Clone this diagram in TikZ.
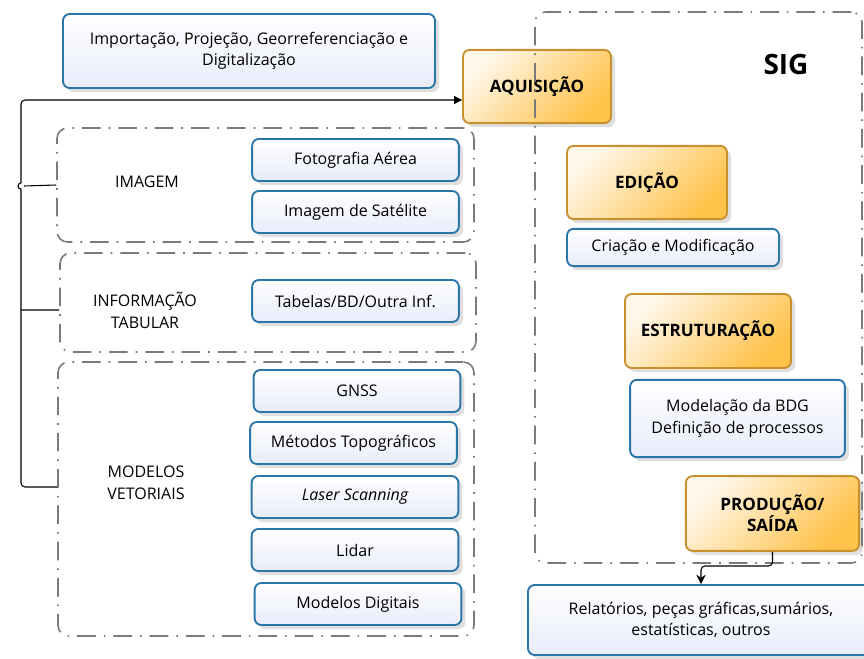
\documentclass[tikz,border=0pt]{standalone}
\usepackage{fontspec}
\setmainfont{Open Sans}
\usetikzlibrary{arrows.meta,positioning,shadows}

\definecolor{boxblue}{HTML}{2B76A8}
\definecolor{fillblue}{HTML}{E8ECFA}
\definecolor{boxorange}{HTML}{C8912F}
\definecolor{lightorange}{HTML}{FFF7EA}
\definecolor{darkorange}{HTML}{FFC24A}
\definecolor{groupgray}{HTML}{7A7A7A}

\begin{document}
\begin{tikzpicture}[x=0.75pt, y=-0.75pt,
  infobox/.style={draw=boxblue, line width=1.4pt, top color=white, bottom color=fillblue,
    rounded corners=5pt, align=center, inner sep=2pt, font=\fontsize{12}{16}\selectfont,
    drop shadow={opacity=0.25, shadow xshift=3pt, shadow yshift=-3pt}},
  srcbox/.style={infobox, minimum width=155pt, minimum height=31.5pt},
  stagebox/.style={draw=boxorange, line width=1.4pt, top color=lightorange, bottom color=darkorange,
    shading angle=45, rounded corners=5pt, align=center, inner sep=2pt,
    font=\bfseries\fontsize{12.8}{15.5}\selectfont,
    drop shadow={opacity=0.25, shadow xshift=3pt, shadow yshift=-3pt}},
  group/.style={draw=groupgray, line width=1.2pt, rounded corners=8pt,
    dash pattern=on 14pt off 6pt on 1.2pt off 6pt},
  grouplabel/.style={align=center, font=\fontsize{12}{16.5}\selectfont},
  bus/.style={draw=black, line width=0.8pt, rounded corners=3pt},
]
\useasboundingbox (0,0) rectangle (864,658);

% Aquisicao
\node[infobox, minimum width=279pt, minimum height=55.5pt] (import) at (249,51)
  {Importação, Projeção, Georreferenciação e\\Digitalização};
\node[stagebox, minimum width=111pt, minimum height=55pt] (aq) at (537,86.5) {AQUISIÇÃO};

% Groups of sources
\node[group, minimum width=312.75pt, minimum height=85.5pt] (grpimg) at (265.5,185) {};
\node[group, minimum width=312pt, minimum height=74.25pt] (grpinf) at (268,302.5) {};
\node[group, minimum width=312pt, minimum height=205.5pt] (grpvet) at (266,499) {};

\node[grouplabel] (lblimg) at (147,182) {IMAGEM};
\node[grouplabel] (lblinf) at (145,310) {INFORMAÇÃO\\TABULAR};
\node[grouplabel] (lblvet) at (146,483) {MODELOS\\VETORIAIS};

% Sources
\node[srcbox] (foto) at (355.5,160) {Fotografia Aérea};
\node[srcbox] (sat) at (355.5,212) {Imagem de Satélite};
\node[srcbox] (tab) at (355.5,301) {Tabelas/BD/Outra Inf.};
\node[srcbox] (gnss) at (357,391) {GNSS};
\node[srcbox] (topo) at (353.5,443) {Métodos Topográficos};
\node[srcbox] (laser) at (355,497) {\itshape Laser Scanning};
\node[srcbox] (lidar) at (355,550) {Lidar};
\node[srcbox] (mdig) at (358,604) {Modelos Digitais};

% Bus to aquisicao (with line hop)
\coordinate (hopbot) at (21,189);
\coordinate (hoptop) at (21,183);
\draw[bus] ([yshift=9pt]grpvet.west) -| (hopbot);
\draw[line width=0.8pt] (hopbot) arc[start angle=90, end angle=270, radius=3];
\draw[bus, -{Triangle[length=6pt, width=6pt]}] (hoptop) |- (aq.west |- 0,100);
\draw[bus] (grpimg.west) -- (24,186);
\draw[bus] ([yshift=-5.6pt]grpinf.west) -- (21,310);

% SIG
\node[group, minimum width=245.25pt, minimum height=413.25pt] (sig) at (698.5,287.5) {};
\node[font=\bfseries\fontsize{21}{24}\selectfont] (sigtitle) at (786,64) {SIG};

\node[stagebox, minimum width=120pt, minimum height=55pt] (edit) at (647,182.5) {EDIÇÃO};
\node[infobox, minimum width=159pt, minimum height=28pt] (criac) at (673,247.5) {Criação e Modificação};
\node[stagebox, minimum width=124.5pt, minimum height=55.5pt] (estrut) at (708,331) {ESTRUTURAÇÃO};
\node[infobox, minimum width=161pt, minimum height=58pt] (model) at (737.5,418.5)
  {Modelação da BDG\\Definição de processos};
\node[stagebox, minimum width=130pt, minimum height=56pt] (prod) at (772.5,513.5) {PRODUÇÃO/\\SAÍDA};

% Saida
\node[infobox, minimum width=259.5pt, minimum height=52.5pt] (out) at (701,620)
  {Relatórios, peças gráficas,sumários,\\estatísticas, outros};
\draw[bus, -{Stealth[length=7pt, width=7pt]}] (prod.south) |- (out.north |- 0,566) -- (out.north);
\end{tikzpicture}
\end{document}
